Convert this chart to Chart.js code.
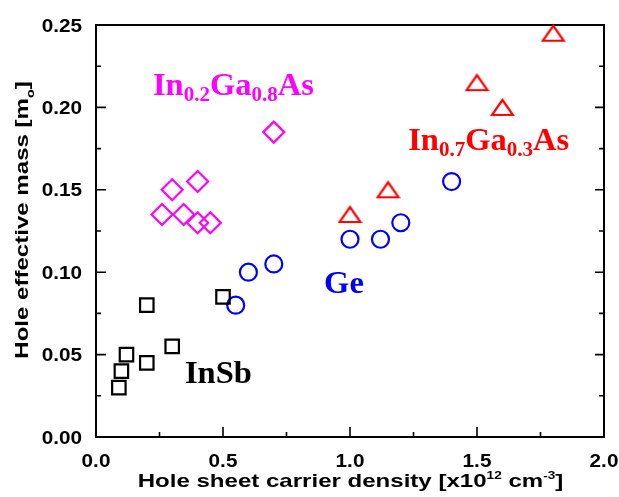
<!DOCTYPE html>
<html>
<head>
<meta charset="utf-8">
<script src="https://cdn.jsdelivr.net/npm/chart.js@4/dist/chart.umd.min.js"></script>
<style>
  html, body { margin: 0; padding: 0; background: #ffffff; }
  canvas { display: block; }
</style>
</head>
<body>
<canvas id="chart" width="619" height="497"></canvas>
<script>
// Hole effective mass versus hole sheet carrier density for four channel materials
const inSbDensity   = [0.09, 0.10, 0.12, 0.20, 0.20, 0.30, 0.50];
const inSbMass      = [0.030, 0.040, 0.050, 0.045, 0.080, 0.055, 0.085];

const geDensity     = [0.55, 0.60, 0.70, 1.00, 1.12, 1.20, 1.40];
const geMass        = [0.080, 0.100, 0.105, 0.120, 0.120, 0.130, 0.155];

const in02Density   = [0.26, 0.30, 0.345, 0.40, 0.40, 0.45, 0.70];
const in02Mass      = [0.135, 0.150, 0.135, 0.155, 0.130, 0.130, 0.185];

const in07Density   = [1.00, 1.15, 1.50, 1.60, 1.80];
const in07Mass      = [0.135, 0.150, 0.215, 0.200, 0.245];

// Axis ticks and their labels
const xMajorTicks   = [0, 0.5, 1.0, 1.5, 2.0];
const xTickLabels   = ['0.0', '0.5', '1.0', '1.5', '2.0'];
const xMinorTicks   = [0.25, 0.75, 1.25, 1.75];
const yMajorTicks   = [0, 0.05, 0.10, 0.15, 0.20, 0.25];
const yTickLabels   = ['0.00', '0.05', '0.10', '0.15', '0.20', '0.25'];
const yMinorTicks   = [0.025, 0.075, 0.125, 0.175, 0.225];

const toPoints = (xs, ys) => xs.map((x, i) => ({ x: x, y: ys[i] }));

// Flattened open triangle used for the In0.7Ga0.3As series
function makeTriangle(color) {
  const c = document.createElement('canvas');
  c.width = 25; c.height = 21;
  const g = c.getContext('2d');
  g.strokeStyle = color;
  g.lineWidth = 2.2;
  g.beginPath();
  g.moveTo(12.5, 3);
  g.lineTo(23, 18);
  g.lineTo(2, 18);
  g.closePath();
  g.stroke();
  return c;
}

const SANS = "'Liberation Sans', Arial, sans-serif";
const SERIF = "'Liberation Serif', 'Times New Roman', serif";

// Draw a run of text segments ({t, size, dy}) horizontally stretched by sx
function drawRich(ctx, segs, x, y, opts) {
  const { weight = 'bold', family = SANS, color = '#000', sx = 1, align = 'left' } = opts;
  ctx.save();
  ctx.fillStyle = color;
  ctx.textBaseline = 'alphabetic';
  ctx.textAlign = 'left';
  let total = 0;
  const widths = segs.map(s => {
    ctx.font = `${weight} ${s.size}px ${family}`;
    const w = ctx.measureText(s.t).width;
    total += w;
    return w;
  });
  ctx.translate(x, y);
  ctx.scale(sx, 1);
  let cx = align === 'center' ? -total / 2 : align === 'right' ? -total : 0;
  segs.forEach((s, i) => {
    ctx.font = `${weight} ${s.size}px ${family}`;
    ctx.fillText(s.t, cx, s.dy || 0);
    cx += widths[i];
  });
  ctx.restore();
}

const framePlugin = {
  id: 'frameAndTicks',
  beforeDatasetsDraw(chart) {
    const ctx = chart.ctx;
    const a = chart.chartArea;
    const xs = chart.scales.x, ys = chart.scales.y;
    ctx.save();
    ctx.strokeStyle = '#000';
    ctx.lineWidth = 2;
    ctx.strokeRect(a.left, a.top, a.right - a.left, a.bottom - a.top);
    ctx.lineWidth = 1.6;
    ctx.beginPath();
    xMajorTicks.forEach(v => { const p = xs.getPixelForValue(v); ctx.moveTo(p, a.bottom); ctx.lineTo(p, a.bottom - 10); });
    xMinorTicks.forEach(v => { const p = xs.getPixelForValue(v); ctx.moveTo(p, a.bottom); ctx.lineTo(p, a.bottom - 5); });
    yMajorTicks.forEach(v => {
      const p = ys.getPixelForValue(v);
      ctx.moveTo(a.left, p); ctx.lineTo(a.left + 10, p);
      ctx.moveTo(a.right, p); ctx.lineTo(a.right - 9, p);
    });
    yMinorTicks.forEach(v => {
      const p = ys.getPixelForValue(v);
      ctx.moveTo(a.left, p); ctx.lineTo(a.left + 5, p);
      ctx.moveTo(a.right, p); ctx.lineTo(a.right - 5, p);
    });
    ctx.stroke();
    ctx.restore();
  },
  afterDraw(chart) {
    const ctx = chart.ctx;
    const a = chart.chartArea;
    const xs = chart.scales.x, ys = chart.scales.y;

    // tick labels
    xMajorTicks.forEach((v, i) => {
      drawRich(ctx, [{ t: xTickLabels[i], size: 18.5 }], xs.getPixelForValue(v), a.bottom + 30, { sx: 1.12, align: 'center' });
    });
    yMajorTicks.forEach((v, i) => {
      drawRich(ctx, [{ t: yTickLabels[i], size: 18.5 }], a.left - 14, ys.getPixelForValue(v) + 6.6, { sx: 1.12, align: 'right' });
    });

    // x axis title
    drawRich(ctx, [
      { t: 'Hole sheet carrier density [x10', size: 18.5 },
      { t: '12', size: 10.5, dy: -8 },
      { t: ' cm', size: 18.5 },
      { t: '-3', size: 10.5, dy: -8 },
      { t: ']', size: 18.5 }
    ], (a.left + a.right) / 2 + 0.5, 486.5, { sx: 1.3, align: 'center' });

    // y axis title
    ctx.save();
    ctx.translate(27.5, 220);
    ctx.rotate(-Math.PI / 2);
    drawRich(ctx, [
      { t: 'Hole effective mass [m', size: 18.5 },
      { t: 'o', size: 11, dy: 6 },
      { t: ']', size: 18.5 }
    ], 0, 0, { sx: 1.3, align: 'center' });
    ctx.restore();

    // series names
    const big = 31, sub = 20, sdy = 6;
    drawRich(ctx, [
      { t: 'In', size: big }, { t: '0.2', size: sub, dy: sdy },
      { t: 'Ga', size: big }, { t: '0.8', size: sub, dy: sdy },
      { t: 'As', size: big }
    ], xs.getPixelForValue(0.224), ys.getPixelForValue(0.2075), { family: SERIF, color: '#ff00ff', sx: 1.05 });
    drawRich(ctx, [
      { t: 'In', size: big }, { t: '0.7', size: sub, dy: sdy },
      { t: 'Ga', size: big }, { t: '0.3', size: sub, dy: sdy },
      { t: 'As', size: big }
    ], xs.getPixelForValue(1.229), ys.getPixelForValue(0.1742), { family: SERIF, color: '#ff0000', sx: 1.05 });
    drawRich(ctx, [{ t: 'Ge', size: big }], xs.getPixelForValue(0.898), ys.getPixelForValue(0.0872), { family: SERIF, color: '#0000ff', sx: 1.05 });
    drawRich(ctx, [{ t: 'InSb', size: big }], xs.getPixelForValue(0.350), ys.getPixelForValue(0.0329), { family: SERIF, color: '#000000', sx: 1.05 });
  }
};

const common = { showLine: false, borderWidth: 2.2, backgroundColor: 'rgba(0,0,0,0)', clip: false };

new Chart(document.getElementById('chart'), {
  type: 'scatter',
  data: {
    datasets: [
      Object.assign({ label: 'InSb', data: toPoints(inSbDensity, inSbMass), pointStyle: 'rect', pointRadius: 9.5, pointHoverRadius: 9.5, borderColor: '#000000' }, common),
      Object.assign({ label: 'Ge', data: toPoints(geDensity, geMass), pointStyle: 'circle', pointRadius: 8.5, pointHoverRadius: 8.5, borderColor: '#0000ff' }, common),
      Object.assign({ label: 'In0.2Ga0.8As', data: toPoints(in02Density, in02Mass), pointStyle: 'rectRot', pointRadius: 10.5, pointHoverRadius: 10.5, borderColor: '#ff00ff' }, common),
      Object.assign({ label: 'In0.7Ga0.3As', data: toPoints(in07Density, in07Mass), pointStyle: makeTriangle('#ff0000'), pointRadius: 10, borderColor: '#ff0000' }, common)
    ]
  },
  options: {
    responsive: false,
    devicePixelRatio: 1,
    animation: false,
    layout: { padding: { left: 96, top: 25, right: 15, bottom: 60 } },
    plugins: { legend: { display: false }, tooltip: { enabled: false } },
    scales: {
      x: { type: 'linear', min: 0, max: 2, display: false },
      y: { type: 'linear', min: 0, max: 0.25, display: false }
    }
  },
  plugins: [framePlugin]
});
</script>
</body>
</html>
